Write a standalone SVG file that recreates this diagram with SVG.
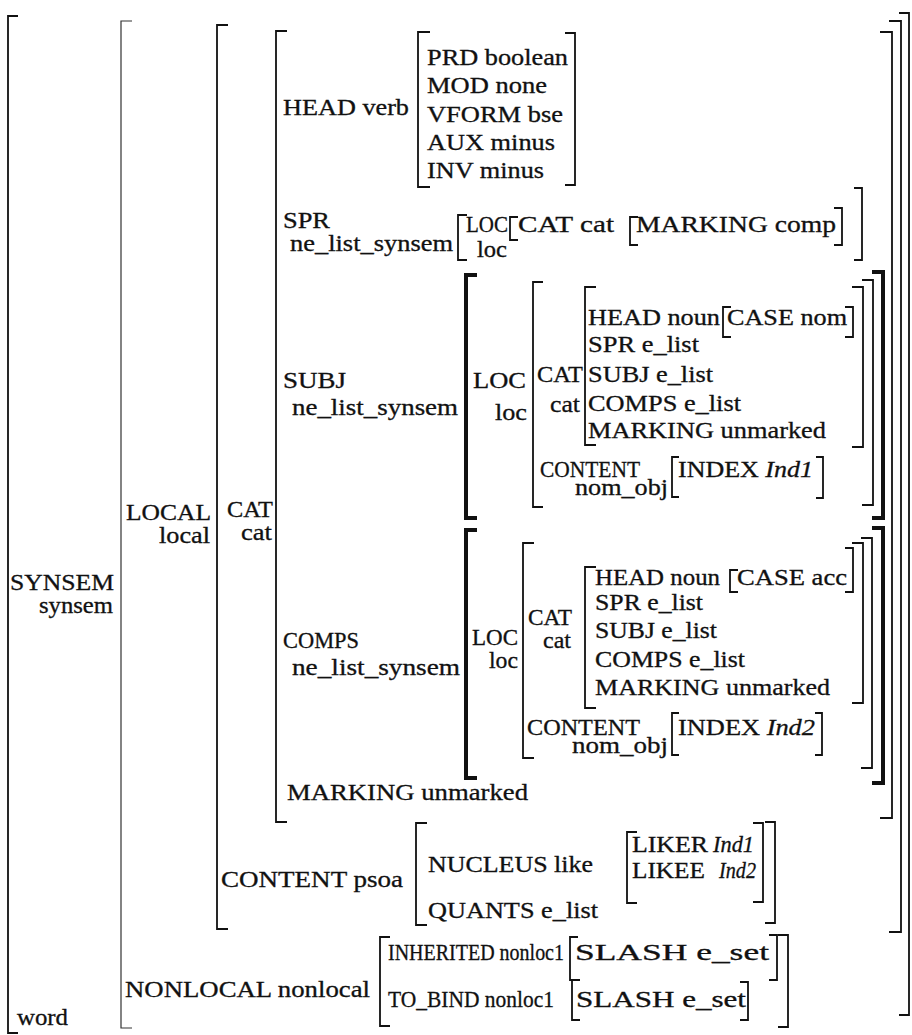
<svg xmlns="http://www.w3.org/2000/svg" width="912" height="1035" viewBox="0 0 912 1035" font-family="'Liberation Serif','Times New Roman','DejaVu Serif',serif">
<style>
.b{fill:none;stroke:#111;stroke-width:1.8}
.bt{fill:none;stroke:#333;stroke-width:1.2}
.bb{fill:none;stroke:#111;stroke-width:4}
.t{font-family:'Liberation Serif','Times New Roman','DejaVu Serif',serif;font-size:22.5px;fill:#111;stroke:#111;stroke-width:0.3}
.e{text-anchor:end}
.i{font-style:italic}
</style>
<rect width="912" height="1035" fill="#fff"/>
<g id="outer">
<path class="b" d="M18,16H8V1033H18"/>
<path class="bt" d="M132,21H121V1028H132"/>
<path class="b" d="M228,25H217V929H228"/>
<path class="b" d="M287,31H276V822H287"/>
<path class="b" d="M880,32H892V818H880"/>
<path class="b" d="M889,21H901V932H889"/>
<path class="b" d="M899,13H909V1015H899"/>
<text class="t" x="10" y="590" textLength="104" lengthAdjust="spacingAndGlyphs">SYNSEM</text>
<text class="t e" x="113" y="613" textLength="74" lengthAdjust="spacingAndGlyphs">synsem</text>
<text class="t" x="17" y="1025" textLength="51" lengthAdjust="spacingAndGlyphs">word</text>
<text class="t" x="126" y="520" textLength="85" lengthAdjust="spacingAndGlyphs">LOCAL</text>
<text class="t e" x="210" y="543" textLength="51" lengthAdjust="spacingAndGlyphs">local</text>
<text class="t" x="227" y="517" textLength="46" lengthAdjust="spacingAndGlyphs">CAT</text>
<text class="t e" x="272" y="540" textLength="31" lengthAdjust="spacingAndGlyphs">cat</text>
</g>
<g id="head">
<text class="t" x="283" y="115" textLength="126" lengthAdjust="spacingAndGlyphs">HEAD verb</text>
<path class="b" d="M430,32H418V187H430"/>
<path class="b" d="M565,33H575V185H565"/>
<text class="t" x="427" y="65" textLength="141" lengthAdjust="spacingAndGlyphs">PRD boolean</text>
<text class="t" x="427" y="93" textLength="120" lengthAdjust="spacingAndGlyphs">MOD none</text>
<text class="t" x="427" y="122" textLength="136" lengthAdjust="spacingAndGlyphs">VFORM bse</text>
<text class="t" x="427" y="150" textLength="128" lengthAdjust="spacingAndGlyphs">AUX minus</text>
<text class="t" x="427" y="178" textLength="117" lengthAdjust="spacingAndGlyphs">INV minus</text>
</g>
<g id="spr">
<text class="t" x="283" y="228" textLength="47" lengthAdjust="spacingAndGlyphs">SPR</text>
<text class="t" x="290" y="251" textLength="163" lengthAdjust="spacingAndGlyphs">ne_list_synsem</text>
<path class="b" d="M467,215H458V260H467"/>
<text class="t" x="466" y="232" textLength="42" lengthAdjust="spacingAndGlyphs">LOC</text>
<text class="t e" x="507" y="257" textLength="30" lengthAdjust="spacingAndGlyphs">loc</text>
<path class="b" d="M518,217H510V240H518"/>
<text class="t" x="518" y="232" textLength="96" lengthAdjust="spacingAndGlyphs">CAT cat</text>
<path class="b" d="M638,217H630V245H638"/>
<text class="t" x="636" y="232" textLength="200" lengthAdjust="spacingAndGlyphs">MARKING comp</text>
<path class="b" d="M834,208H842V245H834"/>
<path class="b" d="M854,188H862V260H854"/>
</g>
<g id="subj">
<text class="t" x="283" y="388" textLength="63" lengthAdjust="spacingAndGlyphs">SUBJ</text>
<text class="t" x="292" y="415" textLength="166" lengthAdjust="spacingAndGlyphs">ne_list_synsem</text>
<path class="bb" d="M477,275H466V518H477"/>
<text class="t" x="473" y="388" textLength="53" lengthAdjust="spacingAndGlyphs">LOC</text>
<text class="t e" x="527" y="420" textLength="32" lengthAdjust="spacingAndGlyphs">loc</text>
<path class="b" d="M543,282H533V507H543"/>
<text class="t" x="537" y="382" textLength="46" lengthAdjust="spacingAndGlyphs">CAT</text>
<text class="t e" x="580" y="412" textLength="30" lengthAdjust="spacingAndGlyphs">cat</text>
<path class="b" d="M596,287H585V445H596"/>
<text class="t" x="588" y="325" textLength="132" lengthAdjust="spacingAndGlyphs">HEAD noun</text>
<path class="b" d="M731,307H723V337H731"/>
<text class="t" x="727" y="325" textLength="120" lengthAdjust="spacingAndGlyphs">CASE nom</text>
<path class="b" d="M845,307H853V337H845"/>
<text class="t" x="588" y="352" textLength="111" lengthAdjust="spacingAndGlyphs">SPR e_list</text>
<text class="t" x="588" y="382" textLength="125" lengthAdjust="spacingAndGlyphs">SUBJ e_list</text>
<text class="t" x="588" y="411" textLength="153" lengthAdjust="spacingAndGlyphs">COMPS e_list</text>
<text class="t" x="588" y="438" textLength="238" lengthAdjust="spacingAndGlyphs">MARKING unmarked</text>
<path class="b" d="M852,287H863V447H852"/>
<text class="t" x="540" y="477" textLength="100" lengthAdjust="spacingAndGlyphs">CONTENT</text>
<text class="t" x="575" y="495" textLength="93" lengthAdjust="spacingAndGlyphs">nom_obj</text>
<path class="b" d="M679,457H672V497H679"/>
<text class="t" x="678" y="477" textLength="135" lengthAdjust="spacingAndGlyphs">INDEX <tspan class="i">Ind1</tspan></text>
<path class="b" d="M816,457H823V498H816"/>
<path class="b" d="M862,280H873V505H862"/>
<path class="bb" d="M872,272H883V518H872"/>
</g>
<g id="comps">
<text class="t" x="283" y="648" textLength="76" lengthAdjust="spacingAndGlyphs">COMPS</text>
<text class="t" x="292" y="675" textLength="168" lengthAdjust="spacingAndGlyphs">ne_list_synsem</text>
<path class="bb" d="M477,530H466V778H477"/>
<text class="t" x="472" y="645" textLength="46" lengthAdjust="spacingAndGlyphs">LOC</text>
<text class="t e" x="518" y="668" textLength="29" lengthAdjust="spacingAndGlyphs">loc</text>
<path class="b" d="M534,543H523V758H534"/>
<text class="t" x="528" y="625" textLength="44" lengthAdjust="spacingAndGlyphs">CAT</text>
<text class="t e" x="571" y="648" textLength="28" lengthAdjust="spacingAndGlyphs">cat</text>
<path class="b" d="M596,567H585V708H596"/>
<text class="t" x="595" y="585" textLength="125" lengthAdjust="spacingAndGlyphs">HEAD noun</text>
<path class="b" d="M738,570H730V592H738"/>
<text class="t" x="737" y="585" textLength="110" lengthAdjust="spacingAndGlyphs">CASE acc</text>
<path class="b" d="M845,548H853V592H845"/>
<text class="t" x="595" y="610" textLength="108" lengthAdjust="spacingAndGlyphs">SPR e_list</text>
<text class="t" x="595" y="638" textLength="122" lengthAdjust="spacingAndGlyphs">SUBJ e_list</text>
<text class="t" x="595" y="667" textLength="150" lengthAdjust="spacingAndGlyphs">COMPS e_list</text>
<text class="t" x="595" y="695" textLength="235" lengthAdjust="spacingAndGlyphs">MARKING unmarked</text>
<path class="b" d="M852,543H863V703H852"/>
<text class="t" x="527" y="735" textLength="113" lengthAdjust="spacingAndGlyphs">CONTENT</text>
<text class="t" x="572" y="753" textLength="96" lengthAdjust="spacingAndGlyphs">nom_obj</text>
<path class="b" d="M679,713H672V755H679"/>
<text class="t" x="678" y="735" textLength="137" lengthAdjust="spacingAndGlyphs">INDEX <tspan class="i">Ind2</tspan></text>
<path class="b" d="M815,713H822V755H815"/>
<path class="b" d="M861,538H872V768H861"/>
<path class="bb" d="M872,528H883V783H872"/>
</g>
<g id="marking">
<text class="t" x="287" y="800" textLength="241" lengthAdjust="spacingAndGlyphs">MARKING unmarked</text>
</g>
<g id="content">
<text class="t" x="221" y="887" textLength="182" lengthAdjust="spacingAndGlyphs">CONTENT psoa</text>
<path class="b" d="M427,823H416V925H427"/>
<text class="t" x="428" y="872" textLength="165" lengthAdjust="spacingAndGlyphs">NUCLEUS like</text>
<text class="t" x="428" y="918" textLength="170" lengthAdjust="spacingAndGlyphs">QUANTS e_list</text>
<path class="b" d="M637,832H627V903H637"/>
<text class="t" x="632" y="852" textLength="76" lengthAdjust="spacingAndGlyphs">LIKER</text>
<text class="t i" x="713" y="852" textLength="41" lengthAdjust="spacingAndGlyphs">Ind1</text>
<text class="t" x="632" y="878" textLength="73" lengthAdjust="spacingAndGlyphs">LIKEE</text>
<text class="t i" x="719" y="878" textLength="37" lengthAdjust="spacingAndGlyphs">Ind2</text>
<path class="b" d="M753,823H763V902H753"/>
<path class="b" d="M765,822H775V923H765"/>
</g>
<g id="nonlocal">
<text class="t" x="125" y="997" textLength="245" lengthAdjust="spacingAndGlyphs">NONLOCAL nonlocal</text>
<path class="b" d="M390,937H380V1026H390"/>
<text class="t" x="388" y="960" textLength="176" lengthAdjust="spacingAndGlyphs">INHERITED nonloc1</text>
<path class="b" d="M578,937H570V980H578"/>
<text class="t" x="575" y="960" textLength="194" lengthAdjust="spacingAndGlyphs">SLASH e_set</text>
<path class="b" d="M769,935H777V980H769"/>
<text class="t" x="388" y="1007" textLength="166" lengthAdjust="spacingAndGlyphs">TO_BIND nonloc1</text>
<path class="b" d="M580,980H572V1020H580"/>
<text class="t" x="576" y="1007" textLength="170" lengthAdjust="spacingAndGlyphs">SLASH e_set</text>
<path class="b" d="M740,982H748V1020H740"/>
<path class="b" d="M778,935H788V1027H778"/>
</g>
</svg>
